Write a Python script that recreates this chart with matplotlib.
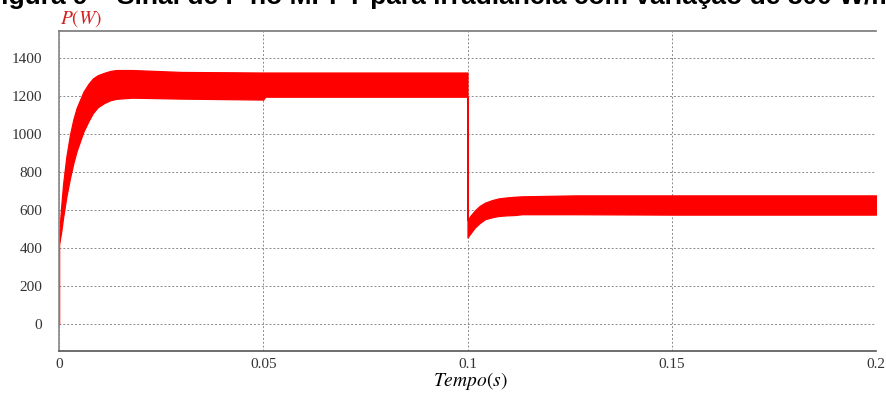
import matplotlib
matplotlib.use('Agg')
import matplotlib.pyplot as plt

# envelope of the P(W) ripple band
t = [0, 0, 0.0005, 0.001, 0.0018, 0.0027, 0.0035, 0.0043, 0.006, 0.0072, 0.0083, 0.0095,
     0.011, 0.0125, 0.014, 0.018, 0.03, 0.05, 0.0505,
     0.1, 0.1, 0.1008, 0.1018, 0.103, 0.1043, 0.106, 0.1076, 0.1095, 0.1117, 0.1133,
     0.1265, 0.15, 0.2]
p_upper = [0, 460, 610, 736, 880, 997, 1075, 1135, 1222, 1262, 1291, 1308,
           1320, 1330, 1335, 1335, 1325, 1322, 1322,
           1322, 547, 572, 598, 622, 639, 652, 661, 666, 670, 672,
           677, 677, 677]
p_lower = [0, 420, 480, 560, 670, 769, 845, 909, 1013, 1066, 1109, 1140,
           1161, 1176, 1184, 1190, 1185, 1180, 1195,
           1195, 456, 480, 508, 532, 552, 562, 569, 572, 574, 578,
           578, 576, 576]

xticks = [0, 0.05, 0.1, 0.15, 0.2]
xticklabels = ['0', '0.05', '0.1', '0.15', '0.2']
yticks = [0, 200, 400, 600, 800, 1000, 1200, 1400]

plt.rcParams['mathtext.fontset'] = 'stix'

fig = plt.figure(figsize=(8.87, 3.96), dpi=100)
ax = fig.add_axes([59/887, 1-351/396, (876-59)/887, (351-31)/396])

ax.fill_between(t, p_lower, p_upper, color='#ff0000', linewidth=0.9, edgecolor='#ff0000')

ax.set_xlim(0, 0.2)
ax.set_ylim(-140, 1540)
ax.set_xticks(xticks)
ax.set_xticklabels(xticklabels)
ax.set_yticks(yticks)
for lab in ax.get_xticklabels() + ax.get_yticklabels():
    lab.set_family('Liberation Serif')
    lab.set_fontsize(11)
    lab.set_color('#333333')
ax.tick_params(length=0)
ax.tick_params(axis='x', pad=5)
ax.tick_params(axis='y', pad=12)

ax.grid(True, color='#8a8a8a', linestyle=(0, (2, 2)), linewidth=0.7)
ax.set_axisbelow(True)
ax.spines['right'].set_visible(False)
ax.spines['top'].set_color('#777777')
ax.spines['left'].set_color('#888888')
ax.spines['bottom'].set_color('#555555')
for s in ['top', 'left', 'bottom']:
    ax.spines[s].set_linewidth(1.2)

fig.text(470/887, 1-381/396, '$Tempo(s)$', fontsize=14, ha='center', va='center')
fig.text(60/887, 1-19/396, '$P(W)$', color='#d42020', fontsize=14, va='center', ha='left')

# figure caption, cut by the top edge as in the source
fig.text(-15/887, 1-4/396, 'Figura 9 – Sinal de P no MPPT para irradiância com variação de 800 W/m²',
         fontsize=19, fontweight='bold', family='Liberation Sans', va='baseline', ha='left')

fig.savefig('out.png', dpi=100)
